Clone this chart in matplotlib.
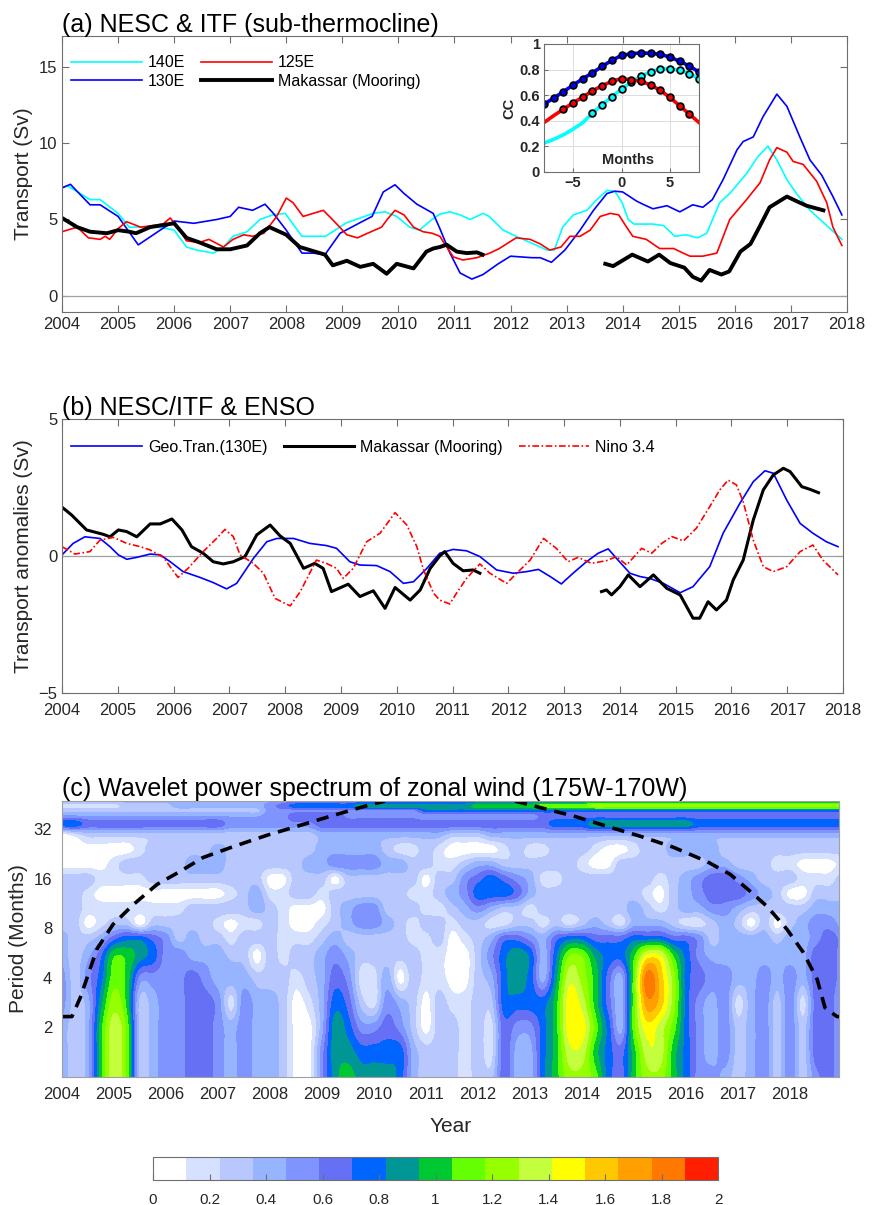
import matplotlib

matplotlib.use("Agg")
import matplotlib.pyplot as plt
import numpy as np

plt.rcParams['font.family'] = ['Liberation Sans', 'DejaVu Sans']
plt.rcParams['axes.linewidth'] = 0.8

NAN = np.nan

# ---- panel (a): sub-thermocline transport (Sv) ----
yr_140e = [2004.0, 2004.1, 2004.5, 2004.68, 2005.0, 2005.2, 2005.69, 2005.87, 2006.0, 2006.22, 2006.4, 2006.7,
           2006.88, 2007.05, 2007.3, 2007.53, 2007.76, 2007.98, 2008.28, 2008.5, 2008.7, 2009.08, 2009.32, 2009.55,
           2009.76, 2009.97, 2010.2, 2010.37, 2010.6, 2010.74, 2010.92, 2011.1, 2011.28, 2011.51, 2011.62, 2011.87,
           2012.1, 2012.35, 2012.65, 2012.78, 2012.93, 2013.12, 2013.36, 2013.54, 2013.72, 2013.86, 2013.99, 2014.1,
           2014.2, 2014.54, 2014.73, 2014.93, 2015.13, 2015.34, 2015.5, 2015.73, 2015.91, 2016.21, 2016.41, 2016.59,
           2016.75, 2016.93, 2017.1, 2017.34, 2017.58, 2017.91]
tr_140e = [7.07, 7.2, 6.3, 6.3, 5.4, 4.5, 4.5, 4.4, 4.3, 3.2, 3.0, 2.8,
           3.2, 3.9, 4.2, 5.0, 5.3, 5.4, 3.9, 3.9, 3.9, 4.8, 5.1, 5.4,
           5.5, 5.2, 4.5, 4.3, 5.0, 5.35, 5.5, 5.3, 5.0, 5.4, 5.2, 4.3,
           3.9, 3.5, 3.0, 3.0, 4.5, 5.3, 5.6, 6.3, 6.9, 6.85, 6.1, 5.0,
           4.7, 4.7, 4.6, 3.9, 4.0, 3.8, 4.1, 6.1, 6.7, 8.0, 9.1, 9.8,
           8.9, 7.6, 6.7, 5.6, 4.8, 3.7]

yr_130e = [2004.0, 2004.15, 2004.5, 2004.68, 2005.0, 2005.36, 2005.75, 2006.0, 2006.35, 2006.76, 2007.0, 2007.15,
           2007.4, 2007.62, 2007.77, 2008.0, 2008.28, 2008.48, 2008.69, 2008.96, 2009.32, 2009.53, 2009.73, 2009.94,
           2010.1, 2010.33, 2010.62, 2010.74, 2010.92, 2011.1, 2011.31, 2011.51, 2011.78, 2012.0, 2012.38, 2012.53,
           2012.73, 2012.97, 2013.24, 2013.48, 2013.72, 2013.86, 2014.0, 2014.25, 2014.36, 2014.54, 2014.79, 2015.02,
           2015.25, 2015.43, 2015.6, 2015.79, 2016.04, 2016.15, 2016.33, 2016.5, 2016.75, 2016.93, 2017.16, 2017.34,
           2017.55, 2017.75, 2017.91]
tr_130e = [7.07, 7.3, 5.96, 5.96, 5.2, 3.34, 4.3, 4.9, 4.75, 5.0, 5.2, 5.8,
           5.6, 6.0, 5.4, 4.3, 2.8, 2.8, 2.7, 4.1, 4.8, 5.2, 6.8, 7.27,
           6.7, 6.0, 5.4, 4.4, 2.8, 1.5, 1.1, 1.4, 2.1, 2.6, 2.5, 2.5,
           2.2, 3.0, 4.3, 5.6, 6.7, 6.85, 6.8, 6.2, 6.0, 5.7, 5.9, 5.5,
           5.96, 5.8, 6.3, 7.6, 9.56, 10.1, 10.4, 11.7, 13.2, 12.4, 10.4, 8.9,
           7.9, 6.5, 5.3]

yr_125e = [2004.0, 2004.27, 2004.47, 2004.68, 2004.77, 2004.85, 2005.0, 2005.15, 2005.4, 2005.62, 2005.8, 2005.93,
           2006.1, 2006.22, 2006.45, 2006.62, 2006.88, 2007.05, 2007.24, 2007.4, 2007.6, 2007.83, 2008.0, 2008.12,
           2008.3, 2008.48, 2008.66, 2008.85, 2009.08, 2009.27, 2009.45, 2009.7, 2009.8, 2009.94, 2010.1, 2010.27,
           2010.44, 2010.6, 2010.74, 2010.86, 2010.98, 2011.15, 2011.4, 2011.63, 2011.8, 2012.1, 2012.35, 2012.53,
           2012.7, 2012.9, 2013.06, 2013.24, 2013.42, 2013.6, 2013.78, 2013.93, 2014.07, 2014.18, 2014.42, 2014.66,
           2014.91, 2015.08, 2015.2, 2015.43, 2015.68, 2015.91, 2016.21, 2016.45, 2016.62, 2016.75, 2016.93, 2017.04,
           2017.22, 2017.46, 2017.64, 2017.75, 2017.91]
tr_125e = [4.2, 4.5, 3.8, 3.7, 3.9, 3.7, 4.4, 4.86, 4.5, 4.6, 4.7, 5.1,
           4.3, 3.6, 3.5, 3.7, 3.2, 3.7, 4.0, 3.9, 4.1, 5.2, 6.4, 6.1,
           5.2, 5.4, 5.6, 4.9, 4.0, 3.8, 4.1, 4.5, 5.0, 5.6, 5.3, 4.5,
           4.2, 4.1, 3.9, 3.2, 2.55, 2.35, 2.5, 2.8, 3.1, 3.8, 3.7, 3.4,
           3.0, 3.2, 3.9, 3.9, 4.3, 5.2, 5.4, 5.3, 4.5, 3.9, 3.7, 3.1,
           3.1, 2.8, 2.6, 2.6, 2.8, 5.0, 6.3, 7.4, 8.9, 9.7, 9.4, 8.8,
           8.6, 7.5, 6.1, 4.5, 3.3]

yr_mak = [2004.0, 2004.27, 2004.5, 2004.8, 2005.0, 2005.2, 2005.32, 2005.57, 2006.0, 2006.22, 2006.45, 2006.76,
          2007.0, 2007.3, 2007.53, 2007.7, 2008.0, 2008.24, 2008.42, 2008.69, 2008.83, 2009.08, 2009.32, 2009.55,
          2009.79, 2009.97, 2010.27, 2010.5, 2010.62, 2010.74, 2010.86, 2011.04, 2011.22, 2011.4, 2011.5, NAN,
          2013.69, 2013.83, 2013.99, 2014.17, 2014.45, 2014.65, 2014.85, 2015.1, 2015.25, 2015.4, 2015.55, 2015.76,
          2015.9, 2016.1, 2016.28, 2016.41, 2016.62, 2016.93, 2017.1, 2017.28, 2017.58]
tr_mak = [5.1, 4.5, 4.2, 4.1, 4.3, 4.2, 4.1, 4.5, 4.75, 3.8, 3.5, 3.05,
          3.05, 3.3, 4.1, 4.5, 4.0, 3.2, 3.0, 2.7, 2.0, 2.3, 1.9, 2.1,
          1.45, 2.1, 1.8, 2.9, 3.1, 3.2, 3.35, 2.9, 2.8, 2.85, 2.7, NAN,
          2.1, 1.95, 2.3, 2.7, 2.25, 2.7, 2.15, 1.85, 1.25, 1.0, 1.7, 1.4,
          1.6, 2.9, 3.4, 4.3, 5.8, 6.5, 6.2, 5.9, 5.6]

# ---- inset: lagged correlation ----
cc_lag = [-8, -7, -6, -5, -4, -3, -2, -1, 0, 1, 2, 3, 4, 5, 6, 7, 8]
cc_130e = [0.53, 0.577, 0.627, 0.679, 0.728, 0.775, 0.825, 0.872, 0.911, 0.924, 0.93, 0.927, 0.919, 0.898,
           0.864, 0.828, 0.78]
cc_125e = [0.386, 0.44, 0.49, 0.54, 0.585, 0.634, 0.674, 0.708, 0.73, 0.72, 0.708, 0.68, 0.637, 0.582,
           0.517, 0.452, 0.386]
cc_140e = [0.225, 0.255, 0.29, 0.335, 0.385, 0.46, 0.525, 0.587, 0.648, 0.702, 0.747, 0.783, 0.804, 0.807,
           0.794, 0.768, 0.728]
mark_130e = list(range(0, 17))
mark_125e = list(range(2, 16))
mark_140e = list(range(5, 17))

# ---- panel (b): anomalies (Sv) ----
yr_geo = [2004.0, 2004.2, 2004.41, 2004.68, 2004.86, 2005.01, 2005.16, 2005.34, 2005.58, 2005.76, 2005.94, 2006.17,
          2006.47, 2006.71, 2006.95, 2007.13, 2007.43, 2007.67, 2007.85, 2008.15, 2008.44, 2008.74, 2008.92, 2009.16,
          2009.34, 2009.64, 2009.88, 2010.12, 2010.3, 2010.54, 2010.77, 2011.01, 2011.25, 2011.49, 2011.79, 2012.09,
          2012.33, 2012.54, 2012.75, 2012.95, 2013.16, 2013.4, 2013.61, 2013.79, 2013.94, 2014.18, 2014.36, 2014.54,
          2014.78, 2015.08, 2015.31, 2015.61, 2015.85, 2016.15, 2016.39, 2016.6, 2016.75, 2016.99, 2017.23, 2017.46,
          2017.7, 2017.91]
an_geo = [0.04, 0.46, 0.7, 0.64, 0.34, 0.04, -0.12, -0.05, 0.07, 0.04, -0.21, -0.57,
          -0.78, -0.97, -1.2, -1.0, -0.09, 0.52, 0.64, 0.64, 0.46, 0.38, 0.28, -0.21,
          -0.33, -0.35, -0.57, -1.0, -0.94, -0.45, 0.1, 0.24, 0.19, -0.02, -0.51, -0.63,
          -0.57, -0.49, -0.75, -1.02, -0.63, -0.21, 0.1, 0.26, -0.09, -0.63, -0.75, -0.82,
          -1.0, -1.34, -1.12, -0.39, 0.83, 1.92, 2.71, 3.11, 3.02, 2.04, 1.19, 0.83,
          0.52, 0.34]

yr_mak_b = [2004.0, 2004.17, 2004.44, 2004.74, 2004.86, 2005.01, 2005.16, 2005.34, 2005.58, 2005.76, 2005.97,
            2006.15, 2006.32, 2006.53, 2006.71, 2006.89, 2007.07, 2007.28, 2007.49, 2007.73, 2007.91, 2008.09,
            2008.33, 2008.53, 2008.68, 2008.83, 2009.13, 2009.34, 2009.58, 2009.79, 2009.97, 2010.24, 2010.42,
            2010.6, 2010.77, 2010.86, 2011.01, 2011.19, 2011.37, 2011.49, NAN,
            2013.67, 2013.76, 2013.85, 2014.0, 2014.15, 2014.36, 2014.6, 2014.84, 2015.08, 2015.31, 2015.43,
            2015.58, 2015.73, 2015.91, 2016.03, 2016.21, 2016.39, 2016.57, 2016.75, 2016.93, 2017.05, 2017.26,
            2017.41, 2017.56]
an_mak_b = [1.78, 1.5, 0.95, 0.79, 0.7, 0.95, 0.89, 0.7, 1.17, 1.17, 1.35,
            0.95, 0.34, 0.1, -0.21, -0.29, -0.21, -0.02, 0.77, 1.13, 0.73, 0.46,
            -0.45, -0.27, -0.45, -1.3, -1.03, -1.48, -1.27, -1.91, -1.15, -1.61, -1.24,
            -0.45, 0.0, 0.16, -0.27, -0.54, -0.51, -0.63, NAN,
            -1.3, -1.24, -1.42, -1.12, -0.69, -1.12, -0.69, -1.18, -1.42, -2.27, -2.27,
            -1.67, -1.97, -1.61, -0.88, -0.15, 1.31, 2.41, 2.96, 3.2, 3.08, 2.53,
            2.43, 2.31]

yr_nino = [2004.0, 2004.23, 2004.5, 2004.68, 2004.92, 2005.16, 2005.4, 2005.58, 2005.82, 2006.0, 2006.08, 2006.26,
           2006.53, 2006.77, 2006.92, 2007.07, 2007.19, 2007.43, 2007.61, 2007.82, 2008.09, 2008.27, 2008.56, 2008.74,
           2008.92, 2009.04, 2009.22, 2009.46, 2009.7, 2009.97, 2010.18, 2010.36, 2010.48, 2010.66, 2010.77, 2010.95,
           2011.07, 2011.25, 2011.49, 2011.67, 2011.97, 2012.15, 2012.39, 2012.63, 2012.86, 2013.07, 2013.25, 2013.49,
           2013.76, 2013.94, 2014.12, 2014.39, 2014.57, 2014.75, 2014.93, 2015.14, 2015.37, 2015.61, 2015.79, 2015.94,
           2016.09, 2016.21, 2016.39, 2016.57, 2016.75, 2016.99, 2017.23, 2017.46, 2017.64, 2017.91]
an_nino = [0.34, 0.07, 0.16, 0.58, 0.68, 0.46, 0.34, 0.22, -0.05, -0.57, -0.78, -0.45,
           0.16, 0.64, 0.97, 0.71, 0.04, -0.27, -0.63, -1.55, -1.82, -1.3, -0.15, -0.27,
           -0.45, -0.82, -0.45, 0.52, 0.83, 1.58, 1.13, 0.34, -0.51, -1.36, -1.61, -1.75,
           -1.36, -0.82, -0.29, -0.63, -1.0, -0.63, -0.15, 0.64, 0.28, -0.21, -0.05, -0.27,
           -0.17, -0.02, -0.33, 0.28, 0.1, 0.46, 0.71, 0.55, 1.01, 1.8, 2.41, 2.77,
           2.59, 1.98, 0.58, -0.39, -0.57, -0.39, 0.16, 0.4, -0.15, -0.69]

# ---- panel (c): wavelet power, one row per log2(period); one char per quarter year from 2004.0 ----
# char = colour class (0-9, a-g)
wav_log2_period = [0.0, 0.5, 1.0, 1.5, 2.0, 2.5, 2.8, 3.1, 3.4, 3.7, 4.0, 4.3, 4.6, 4.9, 5.1, 5.3, 5.38, 5.47,
                   5.6]
wav_rows = [
    "3238b92344" "5543433200" "4787776322" "212253368a" "a9658aa864" "43234242453",
    "3238b92344" "5543433200" "4776666322" "212153368b" "b8658bb864" "34234242553",
    "3238b92344" "5543433200" "3764454202" "212154468c" "c9639cb964" "34234242553",
    "4237a82344" "5541433201" "3652143202" "112266668c" "b8539eda64" "34134241553",
    "4246984444" "5433322212" "3541130211" "002367637b" "a8539fda65" "44334343554",
    "3235887644" "3332202122" "3432222211" "0024676369" "97668bb864" "33333333554",
    "3223566542" "3221222111" "2322222112" "0123554356" "6555666554" "23333233454",
    "2201220222" "2210112100" "1234432122" "1221122121" "2321333211" "23202023443",
    "2211111111" "2222232100" "0234422211" "2343221222" "2222321233" "44322222333",
    "2210000000" "0001231122" "1222222112" "3466653222" "2222210234" "55543200222",
    "2221111222" "2222220022" "2022222202" "2456543112" "2222221234" "55432221112",
    "0000122222" "3332222223" "3444433221" "1233222222" "1002222222" "33222110001",
    "0000001222" "2232222222" "3333321121" "0000121122" "2100122333" "32222222222",
    "0122222222" "2222222222" "3333333333" "2223333333" "3333333333" "33333333333",
    "6655555555" "5554444444" "5555555555" "5555555566" "6777777776" "66666666666",
    "3333333333" "3333334455" "5544444444" "4444444555" "5555555555" "55555555555",
    "2222222222" "2222224444" "4444444466" "6666666666" "6666666666" "66666666666",
    "1111122223" "3333334566" "6667777777" "7788888999" "9aaaaaaaaa" "aaaaaaaaaaa",
    "3333333333" "3333333333" "3333333344" "4444444444" "4444444444" "44444444444",
]
wav_colors = ['#ffffff', '#d6e0ff', '#b8c8ff', '#96b4ff', '#8094ff', '#6670f5', '#0064ff', '#009696',
              '#00c832', '#64ff00', '#96ff00', '#c3ff3c', '#ffff00', '#ffc800', '#ffa000', '#ff7800', '#ff1e00']

coi_year = [2004.0, 2004.19, 2004.35, 2004.67, 2004.98, 2005.37, 2005.83, 2006.27, 2006.71, 2007.29, 2007.94,
            2008.58, 2009.21, 2009.87, 2010.21, NAN, 2012.71, 2013.19, 2013.83, 2014.48, 2015.12, 2015.75,
            2016.4, 2016.85, 2017.23, 2017.56, 2017.94, 2018.25, 2018.52, 2018.67, 2018.9, 2018.94]
coi_log2 = [1.22, 1.22, 1.6, 2.58, 3.08, 3.48, 3.89, 4.15, 4.43, 4.65, 4.88,
            5.08, 5.28, 5.48, 5.57, NAN, 5.57, 5.44, 5.27, 5.06, 4.86, 4.64,
            4.35, 4.09, 3.75, 3.44, 2.98, 2.52, 1.97, 1.4, 1.22, 1.22]

years = list(range(2004, 2019))
TXT = '#262626'
BOX = '#6e6e6e'


def hermite(x, y, xn):
    """cubic Hermite resampling along axis 0 (smooths the contour outlines)."""
    x = np.asarray(x, float)
    y = np.asarray(y, float)
    m = np.gradient(y, x, axis=0)
    i = np.clip(np.searchsorted(x, xn, side='right') - 1, 0, len(x) - 2)
    h = (x[i + 1] - x[i])[:, None]
    t = ((xn - x[i]) / h[:, 0])[:, None]
    return ((2 * t**3 - 3 * t**2 + 1) * y[i] + (t**3 - 2 * t**2 + t) * h * m[i]
            + (-2 * t**3 + 3 * t**2) * y[i + 1] + (t**3 - t**2) * h * m[i + 1])


def style_axis(ax):
    for s in ax.spines.values():
        s.set_color(BOX)
    ax.tick_params(direction='in', top=True, right=True, length=5, width=0.8, colors=BOX,
                   labelcolor=TXT, labelsize=12)


fig = plt.figure(figsize=(8.76, 12.05), dpi=100)

# (a)
ax = fig.add_axes([0.0708, 0.7411, 0.896, 0.229])
ax.axhline(0, color='#a0a0a0', lw=0.9)
ax.plot(yr_140e, tr_140e, color='#00ffff', lw=1.2, label='140E')
ax.plot(yr_130e, tr_130e, color='#0000ff', lw=1.2, label='130E')
ax.plot(yr_125e, tr_125e, color='#ff0000', lw=1.2, label='125E')
ax.plot(yr_mak, tr_mak, color='black', lw=2.8, label='Makassar (Mooring)')
ax.set_xlim(2004, 2018)
ax.set_ylim(-1.05, 17)
ax.set_xticks(years)
ax.set_yticks([0, 5, 10, 15])
ax.set_ylabel('Transport (Sv)', fontsize=15, color=TXT)
ax.set_title('(a) NESC & ITF (sub-thermocline)', loc='left', fontsize=18, pad=3, color='black')
style_axis(ax)
ax.legend(ncol=2, loc='upper left', bbox_to_anchor=(0.012, 0.93), frameon=False, fontsize=11.5,
          handlelength=4.4, handletextpad=0.4, columnspacing=1.0, labelspacing=0.2,
          borderaxespad=0, borderpad=0)

# inset
ins = fig.add_axes([0.621, 0.8573, 0.177, 0.1062])
ins.grid(True, color='#dcdcdc', lw=0.7)
ins.set_axisbelow(True)
for vals, col, marks in ((cc_140e, '#00ffff', mark_140e), (cc_125e, '#ff0000', mark_125e),
                         (cc_130e, '#0000ff', mark_130e)):
    ins.plot(cc_lag, vals, color=col, lw=2.6, marker='o', markevery=marks, markersize=4.8,
             markerfacecolor=col, markeredgecolor='black', markeredgewidth=1.3)
ins.set_xlim(-8, 8)
ins.set_ylim(0, 1)
ins.set_xticks([-5, 0, 5])
ins.set_yticks([0, 0.2, 0.4, 0.6, 0.8, 1])
ins.set_yticklabels(['0', '0.2', '0.4', '0.6', '0.8', '1'])
for s in ins.spines.values():
    s.set_color(BOX)
ins.tick_params(direction='in', length=3, colors=BOX, labelcolor=TXT, labelsize=10.5, pad=3)
for lab in ins.get_xticklabels() + ins.get_yticklabels():
    lab.set_fontweight('bold')
ins.set_ylabel('CC', fontsize=10.5, fontweight='bold', color=TXT, labelpad=2)
ins.text(0.7, 0.09, 'Months', ha='center', va='center', fontsize=10.5, fontweight='bold', color=TXT)

# (b)
bx = fig.add_axes([0.0708, 0.4249, 0.8916, 0.2274])
bx.axhline(0, color='#a0a0a0', lw=0.9)
bx.plot(yr_geo, an_geo, color='#0000ff', lw=1.2, label='Geo.Tran.(130E)')
bx.plot(yr_mak_b, an_mak_b, color='black', lw=2.2, label='Makassar (Mooring)')
bx.plot(yr_nino, an_nino, color='#ff0000', lw=1.2, linestyle=(0, (4, 1.5, 1, 1.5)), label='Nino 3.4')
bx.set_xlim(2004, 2018)
bx.set_ylim(-5, 5)
bx.set_xticks(years)
bx.set_yticks([-5, 0, 5])
bx.set_ylabel('Transport anomalies (Sv)', fontsize=15, color=TXT)
bx.set_title('(b) NESC/ITF & ENSO', loc='left', fontsize=18, pad=3, color='black')
style_axis(bx)
bx.tick_params(axis='x', pad=7)
bx.legend(ncol=3, loc='upper left', bbox_to_anchor=(0.012, 0.925), frameon=False, fontsize=11.5,
          handlelength=4.4, handletextpad=0.4, columnspacing=1.0, borderaxespad=0, borderpad=0)

# (c)
cx = fig.add_axes([0.0708, 0.1062, 0.887, 0.229])
wav_year = 2004 + 0.25 * np.arange(len(wav_rows[0]))
power = np.array([[(int(ch, 17) + 0.5) * 2 / 17 for ch in row] for row in wav_rows])
fine_year = np.linspace(wav_year[0], wav_year[-1], 601)
fine_l2 = np.linspace(wav_log2_period[0], wav_log2_period[-1], 281)
smooth = hermite(wav_year, power.T, fine_year).T
smooth = np.clip(hermite(wav_log2_period, smooth, fine_l2), 0, 1.999)
levels = np.linspace(0, 2, 18)
cf = cx.contourf(fine_year, fine_l2, smooth, levels=levels, colors=wav_colors)
cx.plot(coi_year, coi_log2, color='black', lw=2.6, linestyle=(0, (3.4, 2.2)))
cx.set_xlim(2004, 2018.94)
cx.set_ylim(0, 5.57)
cx.set_xticks(years)
cx.set_yticks([1, 2, 3, 4, 5])
cx.set_yticklabels(['2', '4', '8', '16', '32'])
for s in cx.spines.values():
    s.set_color('#a0a0a0')
cx.tick_params(length=0, labelsize=12, labelcolor=TXT, pad=7)
cx.set_ylabel('Period (Months)', fontsize=15, color=TXT)
cx.set_xlabel('Year', fontsize=15, color=TXT, labelpad=11)
cx.set_title('(c) Wavelet power spectrum of zonal wind (175W-170W)', loc='left', fontsize=18, pad=2,
             color='black')

# colorbar
cax = fig.add_axes([0.1747, 0.0207, 0.645, 0.0191])
cb = fig.colorbar(cf, cax=cax, orientation='horizontal', ticks=[0, 0.2, 0.4, 0.6, 0.8, 1, 1.2, 1.4, 1.6, 1.8, 2])
cb.ax.set_xticklabels(['0', '0.2', '0.4', '0.6', '0.8', '1', '1.2', '1.4', '1.6', '1.8', '2'])
cb.outline.set_edgecolor(BOX)
cb.ax.tick_params(direction='in', length=4, colors=BOX, labelcolor=TXT, labelsize=11, pad=9)

fig.savefig('out.png', dpi=100, facecolor='white')
